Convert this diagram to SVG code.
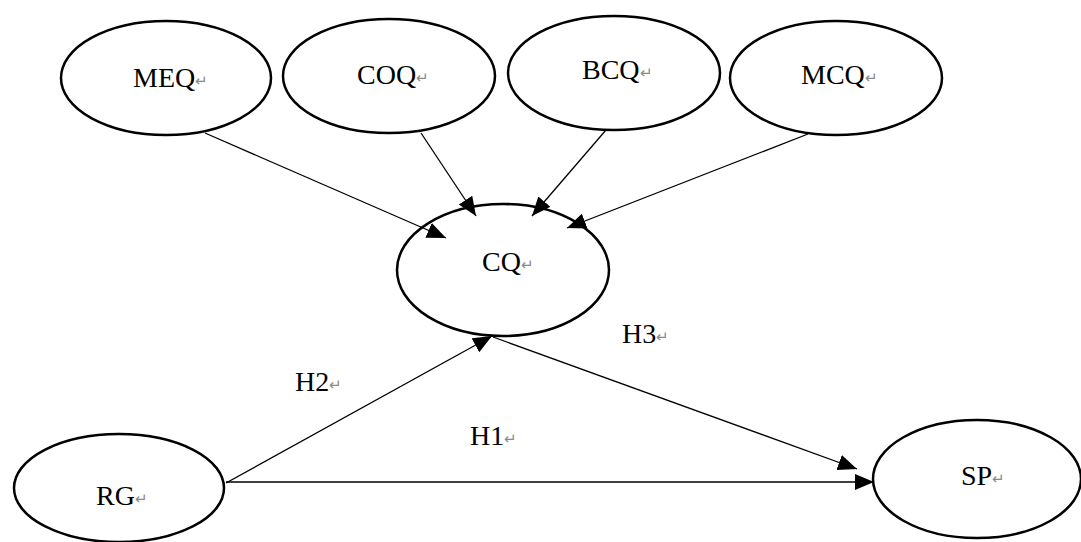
<svg xmlns="http://www.w3.org/2000/svg" width="1081" height="542" viewBox="0 0 1081 542">
<style>
.node ellipse{fill:#fff;stroke:#000;stroke-width:2.5}
.lbl{font-family:"Liberation Serif","Times New Roman",serif;font-size:28px;fill:#000}
.ret{font-size:15px;fill:#8a8a8a}
.conn line{stroke:#000;stroke-width:1.3}
</style>
<defs>
<marker id="ah" markerUnits="userSpaceOnUse" markerWidth="22" markerHeight="18" refX="19" refY="8" orient="auto">
<path d="M0,0 L19,8 L0,16 z" fill="#000"/>
</marker>
</defs>
<rect width="1081" height="542" fill="#fff"/>
<g id="MEQ" class="node"><ellipse cx="166" cy="78" rx="105" ry="57"/><text class="lbl" x="133" y="87">MEQ<tspan class="ret" dy="-1">↵</tspan></text></g>
<g id="COQ" class="node"><ellipse cx="389" cy="76" rx="106" ry="57"/><text class="lbl" x="357" y="84">COQ<tspan class="ret" dy="-1">↵</tspan></text></g>
<g id="BCQ" class="node"><ellipse cx="614" cy="73" rx="106" ry="57"/><text class="lbl" x="582" y="79">BCQ<tspan class="ret" dy="-1">↵</tspan></text></g>
<g id="MCQ" class="node"><ellipse cx="836" cy="78" rx="106" ry="57"/><text class="lbl" x="801" y="84">MCQ<tspan class="ret" dy="-1">↵</tspan></text></g>
<g id="CQ" class="node"><ellipse cx="503" cy="270" rx="106" ry="66"/><text class="lbl" x="482" y="271">CQ<tspan class="ret" dy="-1">↵</tspan></text></g>
<g id="RG" class="node"><ellipse cx="119" cy="488" rx="105" ry="54"/><text class="lbl" x="96" y="505">RG<tspan class="ret" dy="-1">↵</tspan></text></g>
<g id="SP" class="node"><ellipse cx="977" cy="479" rx="104" ry="59"/><text class="lbl" x="961" y="485">SP<tspan class="ret" dy="-1">↵</tspan></text></g>
<g id="connectors" class="conn">
<line x1="205" y1="133" x2="446" y2="238" marker-end="url(#ah)"/>
<line x1="421" y1="133" x2="476" y2="216" marker-end="url(#ah)"/>
<line x1="606" y1="130" x2="532" y2="216" marker-end="url(#ah)"/>
<line x1="808" y1="134" x2="567" y2="228" marker-end="url(#ah)"/>
<line x1="226" y1="483" x2="492" y2="336" marker-end="url(#ah)"/>
<line x1="493" y1="337" x2="857" y2="469" marker-end="url(#ah)"/>
<line x1="226" y1="482" x2="874" y2="482" marker-end="url(#ah)"/>
</g>
<g id="labels">
<text class="lbl" x="295" y="391">H2<tspan class="ret" dy="-1">↵</tspan></text>
<text class="lbl" x="470" y="445">H1<tspan class="ret" dy="-1">↵</tspan></text>
<text class="lbl" x="622" y="343">H3<tspan class="ret" dy="-1">↵</tspan></text>
</g>
</svg>
